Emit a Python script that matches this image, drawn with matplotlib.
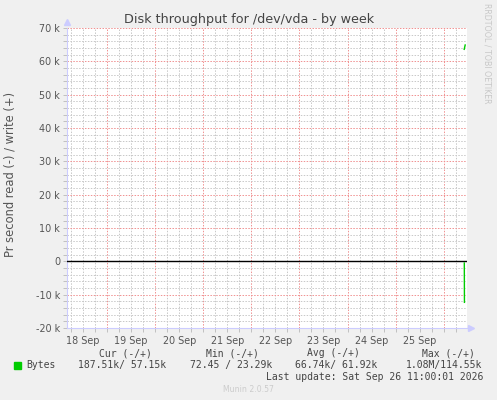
import matplotlib
matplotlib.use('Agg')
import matplotlib.pyplot as plt
from matplotlib.ticker import MultipleLocator, FuncFormatter

# days since 18 Sep 00:00
day_labels = ['18 Sep', '19 Sep', '20 Sep', '21 Sep', '22 Sep', '23 Sep', '24 Sep', '25 Sep']
label_pos = [0.5, 1.5, 2.5, 3.5, 4.5, 5.5, 6.5, 7.5]

# only the last samples of the week carry data
t_write = [8.426, 8.446]
v_write = [63600, 64900]
t_read = [8.428, 8.431]
v_read = [-500, -12300]

legend_head = ['Cur (-/+)', 'Min (-/+)', 'Avg (-/+)', 'Max (-/+)']
legend_vals = ['187.51k/ 57.15k', '72.45 / 23.29k', '66.74k/ 61.92k', '1.08M/114.55k']

W, H = 497, 400
fig = plt.figure(figsize=(W / 100, H / 100), dpi=100, facecolor='#f0f0f0')
ax = fig.add_axes([67 / W, 72 / H, 400 / W, 300 / H], facecolor='white')

ax.set_xlim(0.168, 8.484)
ax.set_ylim(-20000, 70000)

# grid
ax.xaxis.set_major_locator(MultipleLocator(1))
ax.xaxis.set_minor_locator(MultipleLocator(0.25))
ax.yaxis.set_major_locator(MultipleLocator(10000))
ax.yaxis.set_minor_locator(MultipleLocator(2000))
ax.grid(True, which='minor', color='#c8c8c8', lw=0.7, ls=(0, (1.5, 1.5)))
ax.grid(True, which='major', color='#f09090', lw=0.7, ls=(0, (1.5, 1.5)))
ax.set_axisbelow(True)

ax.yaxis.set_major_formatter(FuncFormatter(lambda v, p: '0' if v == 0 else f'{int(v / 1000)} k'))
ax.xaxis.set_major_formatter(FuncFormatter(lambda v, p: ''))
ax.tick_params(axis='both', which='both', length=3, width=0.7, color='#c0c0c0', direction='out')
ax.tick_params(axis='y', labelsize=6.9, labelcolor='#555555', pad=2)

for d, lab in zip(label_pos, day_labels):
    ax.text(d, -0.028, lab, transform=ax.get_xaxis_transform(), ha='center', va='top',
            fontsize=6.9, color='#555555')

for s in ['top', 'right']:
    ax.spines[s].set_visible(False)
for s in ['left', 'bottom']:
    ax.spines[s].set_color('#ccccff')
    ax.spines[s].set_linewidth(0.8)
ax.plot([0], [1.02], marker='^', ms=4, color='#ccccff', transform=ax.transAxes, clip_on=False)
ax.plot([1.01], [0], marker='>', ms=4, color='#ccccff', transform=ax.transAxes, clip_on=False)

ax.axhline(0, color='black', lw=1.0, zorder=3)
ax.plot(t_read, v_read, color='#00cc00', lw=1.0, zorder=4)
ax.plot(t_write, v_write, color='#00cc00', lw=1.0, zorder=4)

# text
fig.text(249 / W, 1 - 19 / H, 'Disk throughput for /dev/vda - by week', ha='center', va='center',
         fontsize=9.2, color='#444444')
fig.text(10 / W, 1 - 174 / H, 'Pr second read (-) / write (+)', rotation=90, ha='center', va='center',
         fontsize=8.3, color='#555555')
fig.text(487 / W, 1 - 53 / H, 'RRDTOOL / TOBI OETIKER', rotation=270, ha='center', va='center',
         fontsize=5.7, color='#c8c8c8')

mono = 'DejaVu Sans Mono'
head_x = [125, 232, 333, 448]
val_x = [122, 231, 336, 444]
for x, s in zip(head_x, legend_head):
    fig.text(x / W, 1 - 353 / H, s, ha='center', va='center', family=mono, fontsize=7, color='#444444')
for x, s in zip(val_x, legend_vals):
    fig.text(x / W, 1 - 365 / H, s, ha='center', va='center', family=mono, fontsize=7, color='#444444')
fig.patches.append(plt.Rectangle((14 / W, 1 - 369 / H), 7 / W, 7 / H, transform=fig.transFigure,
                                 color='#00cc00'))
fig.text(26 / W, 1 - 365 / H, 'Bytes', ha='left', va='center', family=mono, fontsize=7, color='#444444')
fig.text(483 / W, 1 - 377 / H, 'Last update: Sat Sep 26 11:00:01 2026', ha='right', va='center',
         family=mono, fontsize=7, color='#444444')
fig.text(248 / W, 1 - 389 / H, 'Munin 2.0.57', ha='center', va='center', fontsize=5.6, color='#cccccc')

fig.savefig('out.png', dpi=100, facecolor=fig.get_facecolor())
